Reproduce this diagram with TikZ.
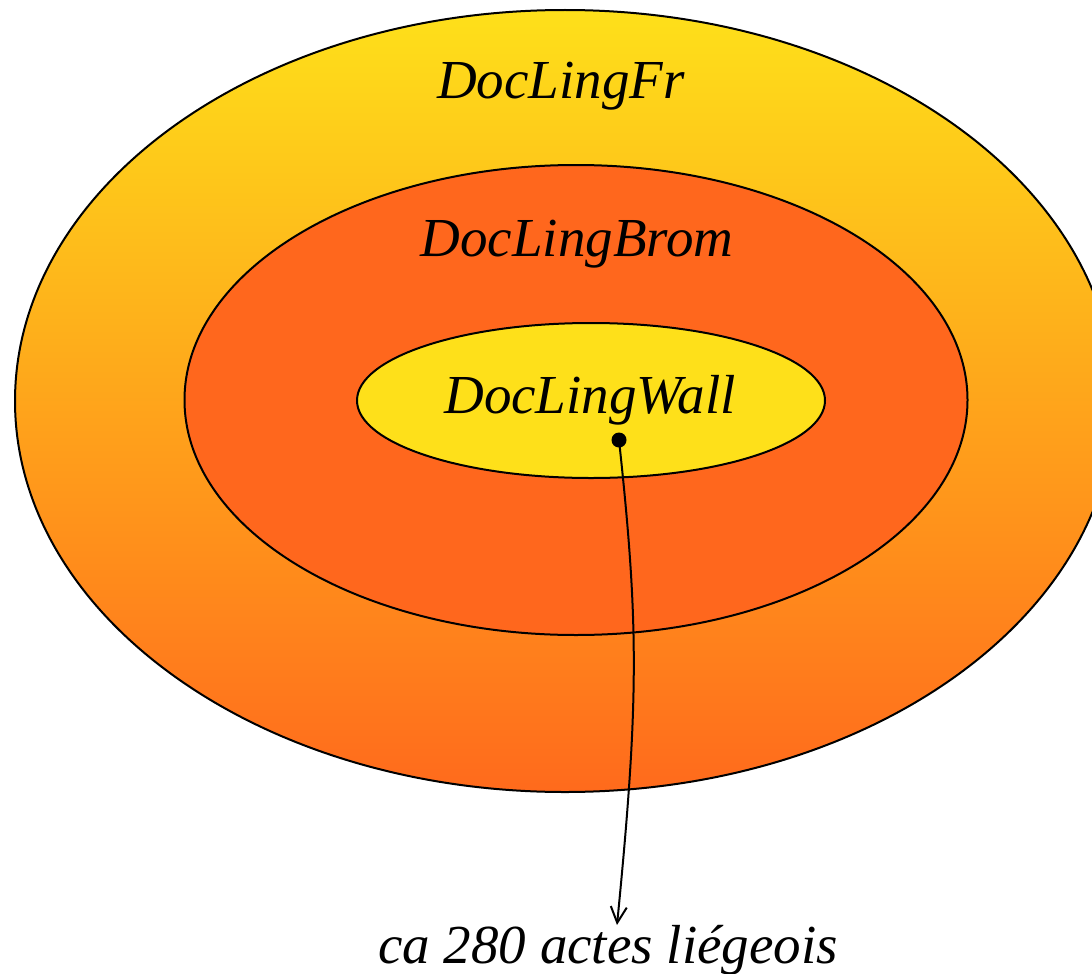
\documentclass[tikz,border=0pt]{standalone}
\usepackage{fontspec}
\setmainfont{Liberation Serif}
\usetikzlibrary{shapes.geometric,arrows.meta}
\definecolor{sunyellow}{RGB}{254,224,26}
\definecolor{deeporange}{RGB}{255,103,29}
\definecolor{gradbottom}{RGB}{255,106,28}
\tikzset{
  ring/.style={ellipse, draw=black, line width=2pt, inner sep=0pt, outer sep=0pt},
  lbl/.style={anchor=base, inner sep=0pt, font=\fontsize{55}{62}\selectfont\itshape},
}
\begin{document}
\begin{tikzpicture}[x=1pt,y=-1pt]
\useasboundingbox (0,0) rectangle (1092,974);
\clip (0,0) rectangle (1092,974);
\node[ring, minimum width=1100pt, minimum height=782pt, top color=sunyellow, bottom color=gradbottom] (fr) at (565,401) {};
\node[ring, minimum width=783pt, minimum height=470pt, fill=deeporange] (brom) at (576,400) {};
\node[ring, minimum width=468pt, minimum height=155pt, fill=sunyellow] (wall) at (591,400.5) {};
\node[lbl] (tfr) at (561,98) {DocLingFr};
\node[lbl] (tbrom) at (577,256) {DocLingBrom};
\node[lbl] (twall) at (590,413) {DocLingWall};
\node[lbl] (actes) at (608,963) {ca 280 actes liégeois};
\node[circle, fill=black, inner sep=0pt, minimum size=15pt] (dot) at (619,440) {};
\coordinate (tip) at (617,925);
\draw[line width=2pt, arrows={-Straight Barb[length=16pt,width=16pt,line width=2pt]}] (dot.center) .. controls (639,625) and (639,701) .. (tip);
\end{tikzpicture}
\end{document}
